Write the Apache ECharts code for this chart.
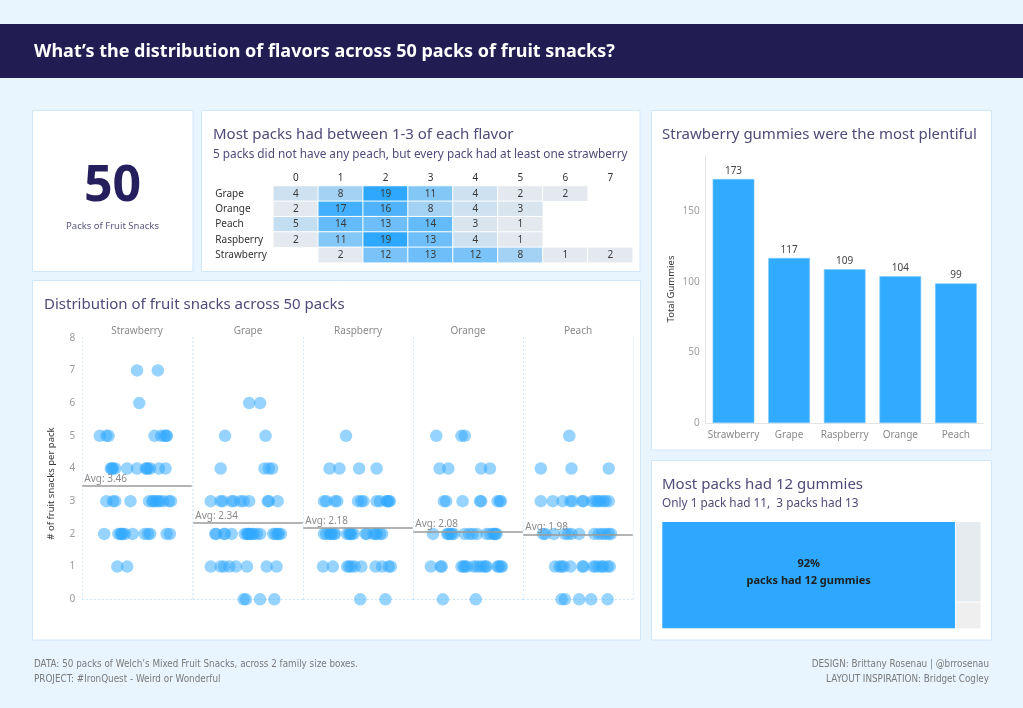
<!DOCTYPE html>
<html><head><meta charset="utf-8">
<script src="https://cdn.jsdelivr.net/npm/echarts@6/dist/echarts.min.js"></script>
<style>html,body{margin:0;padding:0;background:#e9f5fe;overflow:hidden}#c{width:1023px;height:708px}</style>
</head><body><div id="c"></div>
<script>
// ---------- DATA ----------
const flavors = ['Strawberry', 'Grape', 'Raspberry', 'Orange', 'Peach'];
const totalGummies = [173, 117, 109, 104, 99];

const heatRows = ['Grape', 'Orange', 'Peach', 'Raspberry', 'Strawberry'];
const heatCols = ['0', '1', '2', '3', '4', '5', '6', '7'];
const grapeCounts = [4, 8, 19, 11, 4, 2, 2, null];
const orangeCounts = [2, 17, 16, 8, 4, 3, null, null];
const peachCounts = [5, 14, 13, 14, 3, 1, null, null];
const raspberryCounts = [2, 11, 19, 13, 4, 1, null, null];
const strawberryCounts = [null, 2, 12, 13, 12, 8, 1, 2];

const packSizes = ['12 gummies', '13 gummies', '11 gummies'];
const packSizeCounts = [46, 3, 1];

const yTickMax = 8;

// jitter position (0-100 across each panel) of every pack; outer index = # of gummies of that flavor
const strawberryJitter = [[], [32, 41], [20, 33, 35, 36, 37, 39, 46, 57, 60, 62, 77, 80], [22, 28, 30, 44, 61, 64, 65, 67, 69, 71, 74, 79, 81], [26, 27, 28, 30, 41, 50, 58, 59, 60, 62, 70, 76], [16, 22, 24, 66, 72, 75, 77, 77], [52], [50, 69]];
const grapeJitter = [[46, 48, 61, 74], [16, 25, 28, 33, 39, 49, 67, 76], [20, 21, 28, 29, 35, 47, 49, 50, 51, 52, 54, 55, 58, 61, 73, 75, 77, 78, 80], [16, 25, 27, 35, 37, 43, 46, 51, 68, 69, 77], [25, 65, 69, 72], [29, 66], [51, 61]];
const raspberryJitter = [[52, 75], [18, 27, 40, 42, 44, 47, 53, 66, 72, 78, 80], [19, 21, 24, 25, 26, 28, 29, 40, 42, 43, 44, 46, 57, 58, 64, 66, 67, 70, 72], [19, 21, 29, 31, 50, 53, 55, 67, 70, 76, 77, 78, 79], [24, 33, 51, 67], [39]];
const orangeJitter = [[27, 57], [16, 25, 26, 44, 46, 47, 49, 55, 58, 61, 64, 66, 67, 77, 78, 80, 81], [18, 31, 32, 34, 35, 37, 47, 51, 54, 58, 67, 70, 73, 74, 75, 76], [28, 30, 45, 61, 62, 77, 79, 80], [24, 32, 62, 70], [21, 44, 47]];
const peachJitter = [[35, 38, 51, 62, 77], [29, 33, 35, 37, 43, 54, 55, 64, 66, 69, 72, 73, 77, 79], [18, 20, 28, 38, 41, 44, 51, 65, 69, 72, 75, 78, 80], [16, 27, 36, 43, 45, 54, 55, 63, 66, 68, 70, 73, 75, 78], [16, 44, 78], [42]];

// ---------- BUILD ----------
const FONT = 'Noto Sans';
const TITLE_C = '#4f4b78';
const BLUE = '#2ea8ff';
const FOOT = '9.8px "Liberation Sans Narrow", "DejaVu Sans Condensed", sans-serif';
const chart = echarts.init(document.getElementById('c'));

const heatCountRows = [grapeCounts, orangeCounts, peachCounts, raspberryCounts, strawberryCounts];
const heatData = [];
heatCountRows.forEach((row, r) => row.forEach((v, c) => { if (v != null) heatData.push([c, r, v]); }));

const jitters = [strawberryJitter, grapeJitter, raspberryJitter, orangeJitter, peachJitter];
const stripLefts = [82.3, 193.3, 303.3, 413.3, 523.3];
const stripTop = 337.7, stripH = 261.6, stripW = 109.5;

function txt(x, y, text, font, fill, align) {
  return { type: 'text', silent: true, z: 10, style: { x, y, text, font, fill, textAlign: align || 'left', align: align || 'left', textVerticalAlign: 'middle', verticalAlign: 'middle' } };
}
function panel(x, y, w, h) {
  return { type: 'rect', silent: true, z: -10, shape: { x, y, width: w, height: h }, style: { fill: '#ffffff', stroke: '#cfe8fb', lineWidth: 1 } };
}

const grids = [
  { left: 273.3, top: 186, width: 359.4, height: 76.7 },
  { left: 705.7, top: 155, width: 278, height: 268 }
];
const xAxes = [
  { gridIndex: 0, type: 'category', position: 'top', data: heatCols, axisLine: { show: false }, axisTick: { show: false }, axisLabel: { color: '#333', fontSize: 10, fontFamily: FONT, margin: 3 } },
  { gridIndex: 1, type: 'category', data: flavors, axisLine: { lineStyle: { color: '#e4e4e4' } }, axisTick: { show: false }, axisLabel: { interval: 0, color: '#8a8a8a', fontSize: 10, fontFamily: FONT, margin: 7 } }
];
const yAxes = [
  { gridIndex: 0, type: 'category', inverse: true, data: heatRows, axisLine: { show: false }, axisTick: { show: false }, axisLabel: { color: '#333', fontSize: 10, fontFamily: FONT, align: 'left', margin: 58 } },
  { gridIndex: 1, type: 'value', min: 0, max: 190, interval: 50, splitLine: { show: false }, axisLine: { show: true, lineStyle: { color: '#e4e4e4' } }, axisTick: { show: false },
    axisLabel: { color: '#a0a0a0', fontSize: 10, fontFamily: FONT, margin: 6, showMaxLabel: false },
    name: 'Total Gummies', nameLocation: 'middle', nameGap: 29, nameTextStyle: { color: '#333', fontSize: 9.5, fontFamily: FONT } }
];
const series = [
  { type: 'heatmap', xAxisIndex: 0, yAxisIndex: 0, data: heatData,
    itemStyle: { borderColor: '#ffffff', borderWidth: 1 },
    label: { show: true, color: '#3a3a3a', fontSize: 10, fontFamily: FONT } },
  { type: 'bar', xAxisIndex: 1, yAxisIndex: 1, data: totalGummies, barWidth: '75%',
    itemStyle: { color: '#31abff', borderColor: '#7fcaff', borderWidth: 0.6 },
    label: { show: true, position: 'top', color: '#444', fontSize: 10, fontFamily: FONT, distance: 3 } }
];

flavors.forEach((f, i) => {
  const gi = grids.length;
  grids.push({ left: stripLefts[i], top: stripTop, width: stripW, height: stripH });
  xAxes.push({ gridIndex: gi, type: 'value', min: 0, max: 100, interval: 100,
    axisLine: { show: true, onZero: false, lineStyle: { color: '#c4e3fa', type: [1, 3] } }, axisTick: { show: false }, axisLabel: { show: false },
    splitLine: { show: true, lineStyle: { color: '#c4e3fa', type: [1, 3] } } });
  yAxes.push(Object.assign({ gridIndex: gi, type: 'value', min: 0, max: yTickMax, interval: 1,
    splitLine: { show: false }, axisLine: { show: false }, axisTick: { show: false },
    axisLabel: { show: i === 0, color: '#9a9a9a', fontSize: 10, fontFamily: FONT, margin: 7 } },
    i === 0 ? { name: '# of fruit snacks per pack', nameLocation: 'middle', nameGap: 26, nameTextStyle: { color: '#333', fontSize: 9.5, fontFamily: FONT, padding: [0, 0, 0, -30] } } : {}));
  const pts = [];
  let sum = 0, n = 0;
  jitters[i].forEach((row, count) => row.forEach(j => { pts.push([j, count]); sum += count; n++; }));
  const avg = sum / n;
  series.push({ type: 'scatter', xAxisIndex: gi, yAxisIndex: gi, data: pts, symbolSize: 12.5,
    itemStyle: { color: BLUE, opacity: 0.5 }, silent: true,
    markLine: { silent: true, symbol: 'none', animation: false,
      lineStyle: { color: '#9b9b9b', type: 'solid', width: 1.5 },
      label: { show: true, position: 'insideStartTop', formatter: 'Avg: ' + avg.toFixed(2), color: '#8a8a8a', fontSize: 10, fontFamily: FONT, distance: [2, 2] },
      data: [{ yAxis: avg }] } });
});

const pct = Math.round(packSizeCounts[0] / packSizeCounts.reduce((a, b) => a + b, 0) * 100) + '%';
const tmColors = [BLUE, '#e6ebf0', '#efefef'];
series.push({ type: 'treemap', left: 662.3, top: 522, width: 318.2, height: 106.3,
  roam: false, nodeClick: false, breadcrumb: { show: false }, animation: false,
  itemStyle: { gapWidth: 1, borderWidth: 0, borderColor: '#ffffff' },
  label: { show: false },
  data: packSizes.map((name, k) => ({ name, value: packSizeCounts[k], itemStyle: { color: tmColors[k] },
    label: k === 0 ? { show: true, position: 'inside', formatter: pct + '\npacks had ' + name, color: '#1f1f1f', fontSize: 11, fontWeight: 'bold', fontFamily: FONT, lineHeight: 17, align: 'center', verticalAlign: 'middle', offset: [0, -3] } : { show: false } })) });

const graphics = [
  { type: 'rect', silent: true, z: -10, shape: { x: 0, y: 24, width: 1023, height: 54 }, style: { fill: '#211c52' } },
  txt(34, 51.5, 'What’s the distribution of flavors across 50 packs of fruit snacks?', 'bold 18px ' + FONT, '#ffffff'),
  panel(32.5, 110.5, 160.5, 161), panel(201.5, 110.5, 438.5, 161), panel(32.5, 280.5, 608, 359.5),
  panel(651.5, 110.5, 340, 339.5), panel(651.5, 460.5, 340, 179.5),
  txt(112.5, 187, '50', 'bold 50px ' + FONT, '#251f5e', 'center'),
  txt(112.5, 226.5, 'Packs of Fruit Snacks', '9.5px ' + FONT, '#5a5780', 'center'),
  txt(213, 134.5, 'Most packs had between 1-3 of each flavor', '15px ' + FONT, TITLE_C),
  txt(213, 154.5, '5 packs did not have any peach, but every pack had at least one strawberry', '11.8px ' + FONT, TITLE_C),
  txt(44, 305, 'Distribution of fruit snacks across 50 packs', '15px ' + FONT, TITLE_C),
  txt(662, 134.5, 'Strawberry gummies were the most plentiful', '15px ' + FONT, TITLE_C),
  txt(662, 484.5, 'Most packs had 12 gummies', '15px ' + FONT, TITLE_C),
  txt(662, 503.5, 'Only 1 pack had 11,  3 packs had 13', '11.8px ' + FONT, TITLE_C),
  txt(34, 664, 'DATA: 50 packs of Welch’s Mixed Fruit Snacks, across 2 family size boxes.', FOOT, '#7a7a7a'),
  txt(34, 679, 'PROJECT: #IronQuest - Weird or Wonderful', FOOT, '#7a7a7a'),
  txt(989, 664, 'DESIGN: Brittany Rosenau | @brrosenau', FOOT, '#7a7a7a', 'right'),
  txt(989, 679, 'LAYOUT INSPIRATION: Bridget Cogley', FOOT, '#7a7a7a', 'right')
];
flavors.forEach((f, i) => graphics.push(txt(stripLefts[i] + stripW / 2, 331, f, '10px ' + FONT, '#8a8a8a', 'center')));

chart.setOption({
  animation: false,
  textStyle: { fontFamily: FONT },
  grid: grids, xAxis: xAxes, yAxis: yAxes,
  visualMap: { show: false, seriesIndex: 0, dimension: 2, min: 2, max: 19, inRange: { color: ['#e3e9ee', '#2ea8ff'] }, outOfRange: { color: '#ededed' } },
  graphic: { elements: graphics },
  series
});
</script></body></html>
